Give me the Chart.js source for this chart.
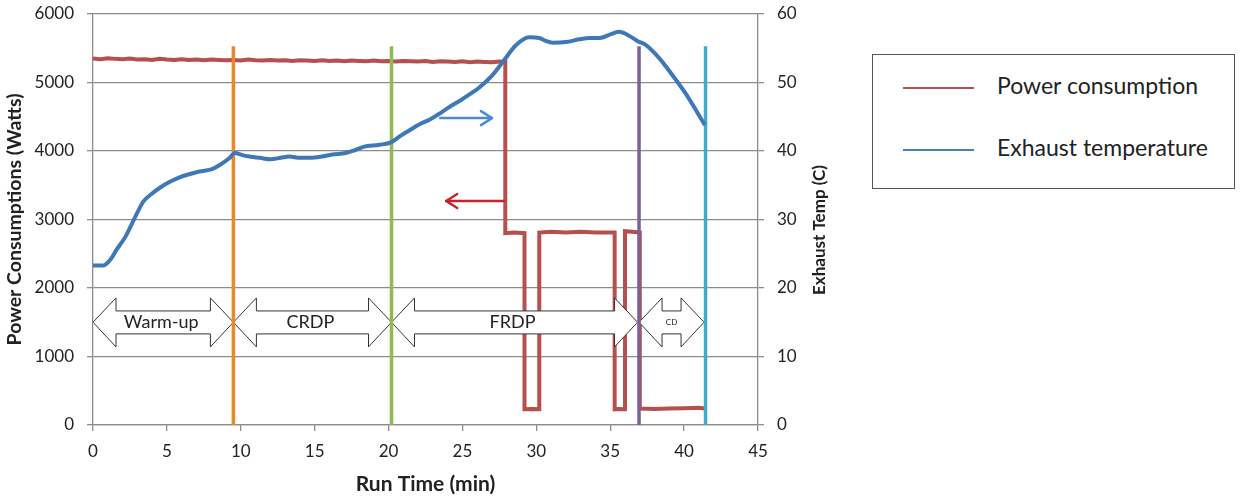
<!DOCTYPE html>
<html>
<head>
<meta charset="utf-8">
<script src="https://cdn.jsdelivr.net/npm/chart.js@4/dist/chart.umd.min.js"></script>
<style>
  html, body { margin:0; padding:0; background:#fff; }
  #wrap { position:relative; width:1240px; height:497px; font-family:Lato, "Open Sans", sans-serif; }
  #wrap canvas { position:absolute; left:0; top:0; }
  #legend { position:absolute; left:872px; top:54px; width:363px; height:135px; border:1.5px solid #555; box-sizing:border-box; background:#fff; }
  .lg-line { position:absolute; left:30px; width:71px; height:2px; }
  .lg-text { position:absolute; left:124px; font-size:23px; color:#222; line-height:26px; white-space:nowrap; }
</style>
</head>
<body>
<div id="wrap">
  <canvas id="c" width="1240" height="497"></canvas>
  <div id="legend">
    <div class="lg-line" style="top:32px;background:#b5504c;"></div>
    <div class="lg-text" style="top:17px;">Power consumption</div>
    <div class="lg-line" style="top:94px;background:#4a7fbd;"></div>
    <div class="lg-text" style="top:79px;">Exhaust temperature</div>
  </div>
</div>
<script>
// ---- data ----
const powerTime = [0,0.5,1,1.5,2,2.5,3,3.5,4,4.5,5,5.5,6,6.5,7,7.5,8,8.5,9,9.5,10,10.5,11,11.5,12,12.5,13,13.5,14,14.5,15,15.5,16,16.5,17,17.5,18,18.5,19,19.5,20,20.5,21,21.5,22,22.5,23,23.5,24,24.5,25,25.5,26,26.5,27,27.5,27.9,
  27.9,28.5,29.2,29.2,29.7,30.2,30.2,31,32,33,34,35.3,35.3,35.6,36.0,36.0,36.5,37.0,37.0,38,39,40,41,41.4];
const powerWatts = [5350,5340,5355,5345,5340,5350,5335,5340,5330,5345,5335,5330,5340,5330,5335,5325,5335,5330,5325,5330,5320,5335,5325,5320,5330,5320,5325,5315,5325,5320,5315,5325,5315,5320,5310,5320,5315,5310,5320,5310,5315,5305,5315,5310,5305,5315,5300,5310,5305,5300,5310,5295,5305,5300,5295,5305,5300,
  2800,2810,2800,230,235,230,2810,2820,2810,2820,2810,2810,230,235,230,2830,2820,2810,240,235,240,245,250,240];

const tempTime = [0,0.7,1.2,1.6,2.2,3.0,3.4,4.0,4.5,5.2,5.9,6.5,7.2,8.1,8.6,9.2,9.6,10.1,10.6,11.3,12,12.7,13.3,14,14.7,15.5,16.2,17.1,17.7,18.3,19.4,20.2,20.8,21.4,22.1,22.8,23.4,24.1,24.8,25.5,26.1,27,27.8,28.6,29.5,30.2,30.6,31.1,32,32.9,33.6,34.3,35.1,35.6,36.3,36.9,37.4,38.3,39.2,40.1,41.4];
const tempC = [23.3,23.3,24.2,25.6,27.5,31.0,32.6,33.8,34.6,35.5,36.2,36.6,37.0,37.4,38.0,38.9,39.7,39.4,39.2,39.0,38.8,39.0,39.2,39.0,39.0,39.2,39.5,39.7,40.1,40.6,40.9,41.3,42.2,43.0,43.9,44.6,45.4,46.4,47.3,48.3,49.2,51.0,53.2,55.4,56.6,56.5,56.1,55.8,55.9,56.3,56.5,56.5,57.1,57.4,56.8,56.0,55.5,53.6,51.1,48.4,43.8];

const boundaryTime = [9.5, 20.2, 36.95, 41.45];
const boundaryTop = 5530;

const phaseNames = ["Warm-up", "CRDP", "FRDP", "CD"];
const phaseStart = [0, 9.5, 20.2, 36.95];
const phaseEnd = [9.5, 20.2, 36.85, 41.35];

const xTicks = [0,5,10,15,20,25,30,35,40,45];
const powerTicks = [0,1000,2000,3000,4000,5000,6000];
const tempTicks = [0,10,20,30,40,50,60];

// arrows pointing at axes: [fromTime, toTime, value]
const powerArrow = [27.8, 23.9, 3270];
const tempArrow = [23.5, 27.0, 44.8];

// ---- styles ----
const boundaryColors = ["#e8892f", "#93b954", "#7d5f9e", "#45a8c4"];
const FONT = "Lato, 'Open Sans', sans-serif";
const GRID = "#8c8c8c";

const datasets = [];
datasets.push({
  label: "Power consumption",
  data: powerTime.map((t,i)=>({x:t, y:powerWatts[i]})),
  yAxisID: "y", borderColor: "#b5504c", borderWidth: 4, pointRadius: 0, tension: 0, order: 3
});
boundaryTime.forEach((t,i)=>{
  datasets.push({
    label: "b"+i,
    data: [{x:t, y:0}, {x:t, y:boundaryTop}],
    yAxisID: "y", borderColor: boundaryColors[i], borderWidth: 3.5, pointRadius: 0, order: 2
  });
});
datasets.push({
  label: "Exhaust temperature",
  data: tempTime.map((t,i)=>({x:t, y:tempC[i]})),
  yAxisID: "y1", borderColor: "#3f78b9", borderWidth: 4, pointRadius: 0,
  tension: 0.4, cubicInterpolationMode: "monotone", order: 1
});

function drawArrowLine(ctx, x0, y0, x1, y1, color) {
  ctx.save();
  ctx.strokeStyle = color; ctx.lineWidth = 2.5; ctx.lineCap = "round"; ctx.lineJoin = "round";
  ctx.beginPath(); ctx.moveTo(x0, y0); ctx.lineTo(x1, y1); ctx.stroke();
  const dir = Math.sign(x1 - x0);
  ctx.beginPath();
  ctx.moveTo(x1 - dir*11, y1 - 7); ctx.lineTo(x1, y1); ctx.lineTo(x1 - dir*11, y1 + 7);
  ctx.stroke();
  ctx.restore();
}

function drawPhases(chart) {
  const {ctx, scales:{x, y}} = chart;
  const yc = y.getPixelForValue(1500);
  const yh1 = y.getPixelForValue(1855), yh2 = y.getPixelForValue(1140);
  const ys1 = y.getPixelForValue(1665), ys2 = y.getPixelForValue(1330);
  const hw = 23;
  ctx.save();
  phaseNames.forEach((name, i) => {
    const x0 = x.getPixelForValue(phaseStart[i]);
    const x1 = x.getPixelForValue(phaseEnd[i]);
    ctx.beginPath();
    ctx.moveTo(x0, yc);
    ctx.lineTo(x0+hw, yh1); ctx.lineTo(x0+hw, ys1);
    ctx.lineTo(x1-hw, ys1); ctx.lineTo(x1-hw, yh1);
    ctx.lineTo(x1, yc);
    ctx.lineTo(x1-hw, yh2); ctx.lineTo(x1-hw, ys2);
    ctx.lineTo(x0+hw, ys2); ctx.lineTo(x0+hw, yh2);
    ctx.closePath();
    ctx.fillStyle = "#fff"; ctx.fill();
    ctx.strokeStyle = "#333"; ctx.lineWidth = 1; ctx.stroke();
    ctx.fillStyle = "#222";
    ctx.font = (name === "CD" ? "8px " : "18px ") + FONT;
    ctx.textAlign = "center"; ctx.textBaseline = "middle";
    ctx.fillText(name, (x0+x1)/2 - (name==="CD"?0:2), yc);
  });
  ctx.restore();
}

const decorPlugin = {
  id: "decor",
  afterDatasetDraw(chart, args) {
    if (args.index === 0) drawPhases(chart);
  },
  afterDatasetsDraw(chart) {
    const {ctx, scales:{x, y, y1}} = chart;
    drawArrowLine(ctx, x.getPixelForValue(powerArrow[0]), y.getPixelForValue(powerArrow[2]),
      x.getPixelForValue(powerArrow[1]), y.getPixelForValue(powerArrow[2]), "#c0272d");
    drawArrowLine(ctx, x.getPixelForValue(tempArrow[0]), y1.getPixelForValue(tempArrow[2]),
      x.getPixelForValue(tempArrow[1]), y1.getPixelForValue(tempArrow[2]), "#4b8bd0");
  },
  afterDraw(chart) {
    const {ctx} = chart;
    ctx.save();
    ctx.translate(820, 230);
    ctx.rotate(-Math.PI/2);
    ctx.font = "bold 17px " + FONT;
    ctx.fillStyle = "#222"; ctx.textAlign = "center"; ctx.textBaseline = "middle";
    ctx.fillText("Exhaust Temp (C)", 0, 0);
    ctx.restore();
  }
};

const plainTick = v => String(v);

new Chart(document.getElementById("c"), {
  type: "line",
  data: { datasets },
  plugins: [decorPlugin],
  options: {
    responsive: false, animation: false, devicePixelRatio: 1,
    layout: { padding: { left: 0, right: 410, top: 14, bottom: 0 } },
    plugins: { legend: { display: false }, tooltip: { enabled: false } },
    scales: {
      x: {
        type: "linear", min: 0, max: 45,
        afterBuildTicks: s => { s.ticks = xTicks.map(v => ({value: v})); },
        afterFit: s => { s.height = 72; },
        grid: { drawOnChartArea: false, drawTicks: true, tickLength: 6, color: GRID, lineWidth: 1.3 },
        border: { display: true, color: GRID, width: 1.3 },
        ticks: { color: "#222", font: { family: FONT, size: 17 }, padding: 10, maxRotation: 0, callback: plainTick },
        title: { display: true, text: "Run Time (min)", color: "#222", font: { family: FONT, size: 21, weight: "bold" }, padding: { top: 0, bottom: 0 } }
      },
      y: {
        position: "left", min: 0, max: 6000,
        afterBuildTicks: s => { s.ticks = powerTicks.map(v => ({value: v})); },
        afterFit: s => { s.width = 93; s.paddingTop = 0; s.paddingBottom = 0; },
        grid: { drawTicks: true, tickLength: 6, color: GRID, lineWidth: 1.3 },
        border: { display: true, color: GRID, width: 1.3 },
        ticks: { color: "#222", font: { family: FONT, size: 17 }, padding: 13, callback: plainTick },
        title: { display: true, text: "Power Consumptions (Watts)", color: "#222", font: { family: FONT, size: 19.5, weight: "bold" }, padding: { top: 3, bottom: 2 } }
      },
      y1: {
        position: "right", min: 0, max: 60,
        afterBuildTicks: s => { s.ticks = tempTicks.map(v => ({value: v})); },
        afterFit: s => { s.width = 72; s.paddingTop = 0; s.paddingBottom = 0; },
        grid: { drawOnChartArea: false, drawTicks: true, tickLength: 6, color: GRID, lineWidth: 1.3 },
        border: { display: true, color: GRID, width: 1.3 },
        ticks: { color: "#222", font: { family: FONT, size: 17 }, padding: 13, callback: plainTick }
      }
    }
  }
});
</script>
</body>
</html>
